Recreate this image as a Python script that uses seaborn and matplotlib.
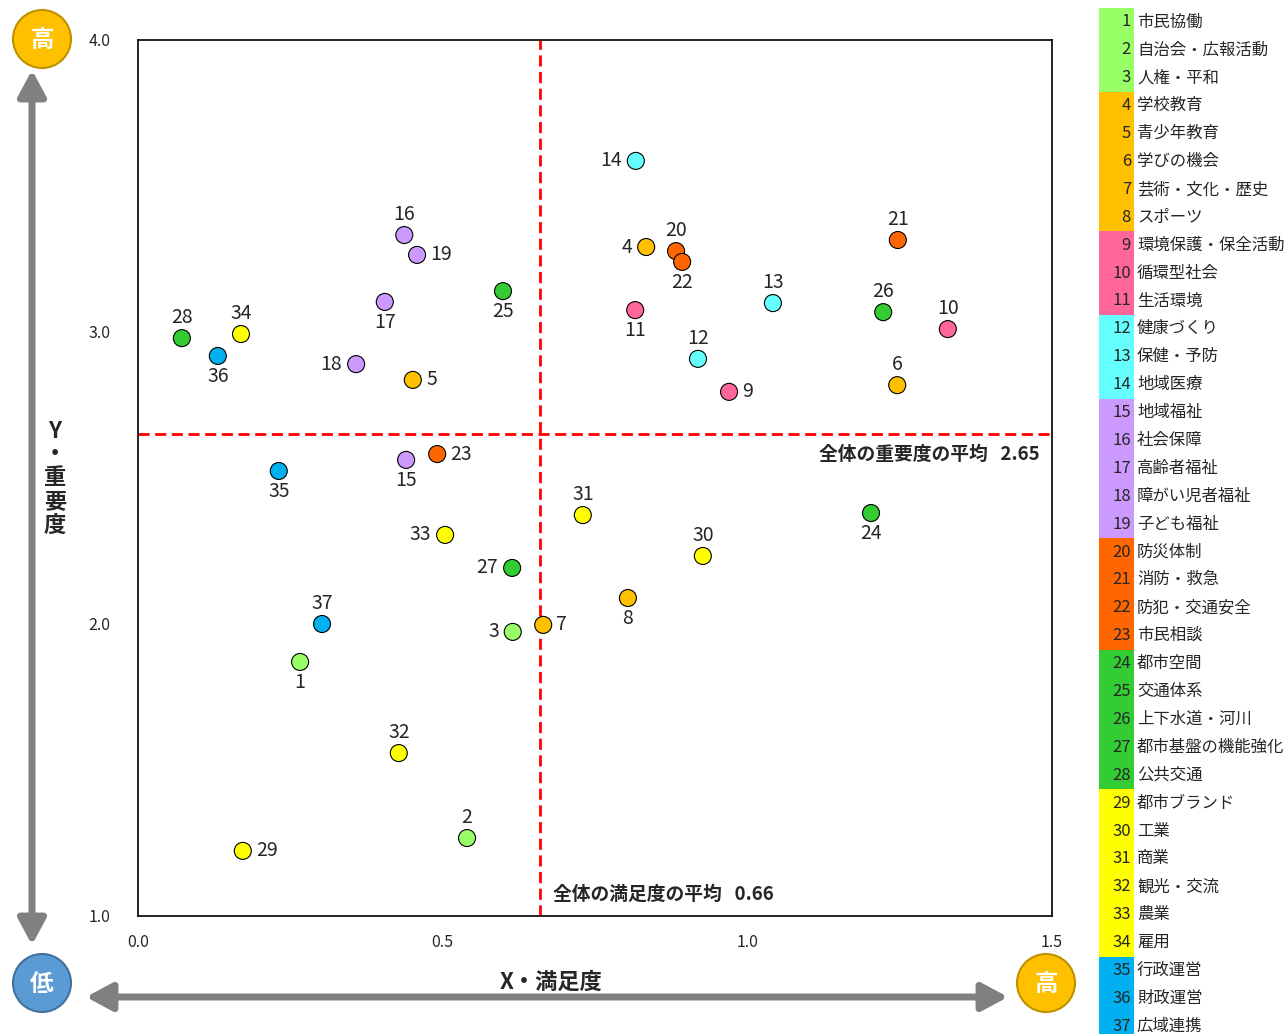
import matplotlib
matplotlib.use("Agg")
import matplotlib.pyplot as plt
from matplotlib.patches import Circle, Rectangle
import pandas as pd
import seaborn as sns

# item names, grouped by category
item_names = [
    "市民協働", "自治会・広報活動", "人権・平和",
    "学校教育", "青少年教育", "学びの機会", "芸術・文化・歴史", "スポーツ",
    "環境保護・保全活動", "循環型社会", "生活環境",
    "健康づくり", "保健・予防", "地域医療",
    "地域福祉", "社会保障", "高齢者福祉", "障がい児者福祉", "子ども福祉",
    "防災体制", "消防・救急", "防犯・交通安全", "市民相談",
    "都市空間", "交通体系", "上下水道・河川", "都市基盤の機能強化", "公共交通",
    "都市ブランド", "工業", "商業", "観光・交流", "農業", "雇用",
    "行政運営", "財政運営", "広域連携",
]
group_sizes = [3, 5, 3, 3, 5, 4, 5, 6, 3]
group_colors = ["#99FF66", "#FFC000", "#FF6699", "#66FFFF", "#CC99FF",
                "#FF6600", "#33CC33", "#FFFF00", "#00B0F0"]

# satisfaction (x) and importance (y) per item 1..37
satisfaction = [0.266, 0.540, 0.615, 0.834, 0.451, 1.246, 0.665, 0.804, 0.970, 1.329,
                0.816, 0.919, 1.042, 0.817, 0.440, 0.437, 0.405, 0.358, 0.458, 0.883,
                1.247, 0.893, 0.491, 1.203, 0.599, 1.223, 0.614, 0.072, 0.172, 0.927,
                0.730, 0.428, 0.504, 0.169, 0.231, 0.131, 0.302]
importance = [1.870, 1.267, 1.973, 3.291, 2.836, 2.818, 1.997, 2.089, 2.795, 3.010,
              3.075, 2.908, 3.099, 3.586, 2.562, 3.332, 3.103, 2.890, 3.264, 3.277,
              3.315, 3.240, 2.582, 2.380, 3.140, 3.068, 2.192, 2.979, 1.223, 2.233,
              2.373, 1.558, 2.305, 2.993, 2.524, 2.918, 2.000]

mean_satisfaction = 0.66
mean_importance = 2.65

# where each number label sits relative to its point
label_side = ["b", "t", "l", "l", "r", "t", "r", "b", "r", "t",
              "b", "t", "t", "l", "b", "t", "b", "l", "r", "t",
              "t", "b", "r", "b", "b", "t", "l", "t", "r", "t",
              "t", "t", "l", "t", "b", "b", "t"]

group_of = []
for g, n in enumerate(group_sizes):
    group_of += [g] * n

df = pd.DataFrame({
    "no": range(1, len(item_names) + 1),
    "name": item_names,
    "x": satisfaction,
    "y": importance,
    "group": group_of,
})

W, H = 1284, 1034
sns.set_theme(style="white")
plt.rcParams["font.family"] = ["Noto Sans CJK JP", "DejaVu Sans"]

fig = plt.figure(figsize=(W / 100, H / 100), dpi=100)

# overlay in pixel coordinates for the decorations around the plot
deco = fig.add_axes([0, 0, 1, 1])
deco.set_xlim(0, W)
deco.set_ylim(H, 0)
deco.axis("off")
deco.patch.set_alpha(0)

for cx, cy, txt, fc, ec in [(42, 39, "高", "#FFC000", "#BF9000"),
                            (42, 983, "低", "#5B9BD5", "#41719C"),
                            (1046, 983, "高", "#FFC000", "#BF9000")]:
    deco.add_patch(Circle((cx, cy), 29, facecolor=fc, edgecolor=ec, lw=1.5))
    deco.text(cx, cy + 1, txt, ha="center", va="center", color="white",
              fontsize=17, fontweight="bold")

arrow = dict(arrowstyle="<|-|>,head_length=1.3,head_width=0.7", lw=5,
             color="#808080", shrinkA=0, shrinkB=0)
deco.annotate("", xy=(32, 70), xytext=(32, 945), arrowprops=arrow)
deco.annotate("", xy=(86, 997), xytext=(1008, 997), arrowprops=arrow)

deco.text(551, 982, "X・満足度", ha="center", va="center", fontsize=16, fontweight="bold")
for i, ch in enumerate(["Y", "・", "重", "要", "度"]):
    deco.text(55, 431 + i * 23.5, ch, ha="center", va="center", fontsize=16, fontweight="bold")

# main scatter
ax = fig.add_axes([138 / W, 1 - 916 / H, (1052 - 138) / W, (916 - 40) / H])
sns.scatterplot(data=df, x="x", y="y", hue="group",
                palette=dict(enumerate(group_colors)), s=150,
                edgecolor="black", linewidth=0.8, legend=False, ax=ax, zorder=3)
ax.set_xlim(0, 1.5)
ax.set_ylim(1.0, 4.0)
ax.set_xticks([0.0, 0.5, 1.0, 1.5])
ax.set_yticks([1.0, 2.0, 3.0, 4.0])
ax.set_xticklabels(["0.0", "0.5", "1.0", "1.5"])
ax.set_yticklabels(["1.0", "2.0", "3.0", "4.0"])
ax.tick_params(axis="x", length=0, pad=13, labelsize=11.5)
ax.tick_params(axis="y", length=0, pad=20, labelsize=11.5)
ax.set_xlabel("")
ax.set_ylabel("")
for sp in ax.spines.values():
    sp.set_color("black")
    sp.set_linewidth(1.2)

ax.axvline(mean_satisfaction, color="#FF0000", lw=2, dashes=(4, 2), zorder=2)
ax.axhline(mean_importance, color="#FF0000", lw=2, dashes=(4, 2), zorder=2)
ax.text(1.48, 2.582, f"全体の重要度の平均   {mean_importance:.2f}", ha="right", va="center",
        fontsize=13.5, fontweight="bold")
ax.text(0.681, 1.075, f"全体の満足度の平均   {mean_satisfaction:.2f}", ha="left", va="center",
        fontsize=13.5, fontweight="bold")

offsets = {"t": (0, 15, "center", "center"), "b": (0, -15, "center", "center"),
           "l": (-10, 0, "right", "center"), "r": (9.5, 0, "left", "center")}
for row, side in zip(df.itertuples(), label_side):
    dx, dy, ha, va = offsets[side]
    ax.annotate(str(row.no), (row.x, row.y), xytext=(dx, dy), textcoords="offset points",
                ha=ha, va=va, fontsize=14, zorder=4)

# category table on the right
row_h = 27.9
top = 8
tab = fig.add_axes([1099 / W, 1 - (top + 37 * row_h) / H, (W - 1099) / W, 37 * row_h / H])
tab.set_xlim(0, W - 1099)
tab.set_ylim(37, 0)
tab.axis("off")
start = 0
for n, c in zip(group_sizes, group_colors):
    tab.add_patch(Rectangle((0, start), 35, n, facecolor=c, edgecolor="none"))
    start += n
for row in df.itertuples():
    yc = row.no - 0.5
    tab.text(32, yc, str(row.no), ha="right", va="center", fontsize=12)
    tab.text(38, yc, row.name, ha="left", va="center", fontsize=11.8)

fig.savefig("out.png", dpi=100)
